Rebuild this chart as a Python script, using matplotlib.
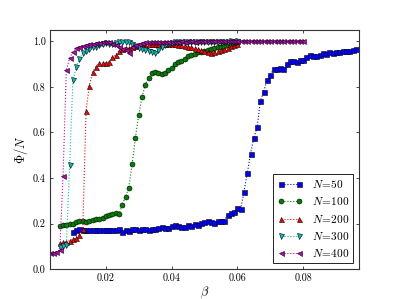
import numpy as np
import matplotlib
matplotlib.use("Agg")
import matplotlib.pyplot as plt

plt.rcParams['font.family'] = ['cmr10', 'DejaVu Serif']
plt.rcParams['mathtext.fontset'] = 'cm'
plt.rcParams['axes.formatter.use_mathtext'] = True

# ---- data ----
beta_start_50 = 0.010
phi_50 = [0.165, 0.170, 0.175, 0.172, 0.170, 0.172, 0.172, 0.170, 0.172, 0.172,
          0.173, 0.170, 0.170, 0.170, 0.175, 0.165, 0.170, 0.168, 0.178, 0.175,
          0.170, 0.175, 0.178, 0.172, 0.175, 0.178, 0.180, 0.185, 0.180, 0.180,
          0.190, 0.195, 0.190, 0.185, 0.185, 0.195, 0.190, 0.197, 0.195, 0.203,
          0.208, 0.210, 0.205, 0.203, 0.212, 0.210, 0.213, 0.237, 0.247, 0.250,
          0.270, 0.262, 0.340, 0.420, 0.507, 0.576, 0.622, 0.739, 0.779, 0.832,
          0.850, 0.880, 0.880, 0.884, 0.880, 0.902, 0.912, 0.912, 0.907, 0.916,
          0.920, 0.933, 0.940, 0.936, 0.936, 0.942, 0.947, 0.944, 0.953, 0.948,
          0.952, 0.955, 0.956, 0.957, 0.958, 0.961, 0.964]

beta_start_100 = 0.006
phi_100 = [0.190, 0.195, 0.193, 0.197, 0.200, 0.205, 0.210, 0.213, 0.205, 0.213,
           0.215, 0.218, 0.222, 0.225, 0.232, 0.236, 0.240, 0.245, 0.240, 0.283,
           0.317, 0.358, 0.460, 0.576, 0.677, 0.754, 0.810, 0.840, 0.859, 0.865,
           0.862, 0.857, 0.862, 0.872, 0.884, 0.900, 0.908, 0.915, 0.922, 0.934,
           0.940, 0.946, 0.951, 0.955, 0.957, 0.962, 0.967, 0.970, 0.974, 0.977,
           0.980, 0.983, 0.986, 0.990, 0.991]

beta_start_200 = 0.006
phi_200 = [0.115, 0.118, 0.120, 0.125, 0.130, 0.138, 0.150, 0.175, 0.695, 0.805,
           0.865, 0.889, 0.905, 0.905, 0.905, 0.910, 0.929, 0.940, 0.957, 0.968,
           0.972, 0.970, 0.976, 0.980, 0.982, 0.984, 0.985, 0.986, 0.987, 0.988,
           0.988, 0.989, 0.990, 0.988, 0.990, 0.988, 0.985, 0.982, 0.980, 0.977,
           0.974, 0.970, 0.966, 0.962, 0.958, 0.953, 0.950, 0.955, 0.957, 0.963,
           0.968, 0.972, 0.978, 0.984, 0.988]

beta_start_300 = 0.006
phi_300 = [0.095, 0.100, 0.105, 0.455, 0.828, 0.887, 0.924, 0.947, 0.957, 0.964,
           0.973, 0.977, 0.984, 0.987, 0.993, 0.990, 0.990, 0.993, 0.998, 0.998,
           0.998, 0.996, 0.990, 0.980, 0.972, 0.966, 0.960, 0.956, 0.953, 0.948,
           0.960, 0.973, 0.984, 0.990, 0.993, 0.995, 0.996, 0.995, 0.997, 0.996,
           0.997, 0.998, 0.997, 0.998, 0.998, 0.998, 0.999, 0.998, 0.999, 0.999,
           0.999, 0.999, 1.000, 0.999, 1.000]

beta_start_400 = 0.003
phi_400 = [0.072, 0.072, 0.075, 0.082, 0.410, 0.874, 0.926, 0.954, 0.969, 0.976,
           0.980, 0.984, 0.987, 0.988, 0.993, 0.994, 0.998, 0.996, 0.996, 0.990,
           0.984, 0.977, 0.968, 0.960, 0.950, 0.975, 0.985, 0.990, 0.992, 0.995,
           0.996, 0.997, 0.997, 0.998, 0.998, 0.999, 0.998, 0.999, 0.999, 0.999,
           1.000, 0.999, 1.000, 1.000, 0.999, 1.000, 1.000, 1.000, 1.000, 1.000,
           1.000, 1.000, 1.000, 1.000, 1.000, 1.000, 1.000, 1.000, 1.000, 1.000,
           1.000, 1.000, 1.000, 1.000, 1.000, 1.000, 1.000, 1.000, 1.000, 1.000,
           1.000, 1.000, 1.000, 1.000, 1.000, 1.000, 1.000, 1.000]

beta_step = 0.001
sizes = ['50', '100', '200', '300', '400']
starts = [beta_start_50, beta_start_100, beta_start_200, beta_start_300, beta_start_400]
series = [phi_50, phi_100, phi_200, phi_300, phi_400]
colors = ['#0000ff', '#008000', '#ff0000', '#00bfbf', '#bf00bf']
markers = ['s', 'o', '^', 'v', '<']

fig = plt.figure(figsize=(3.99, 2.99), dpi=100)
fig.subplots_adjust(left=0.125, right=0.9, bottom=0.1, top=0.9)
ax = fig.add_subplot(111)

for n, s0, phi, c, m in zip(sizes, starts, series, colors, markers):
    b = s0 + beta_step * np.arange(len(phi))
    ax.plot(b, phi, linestyle=':', color=c, marker=m, markersize=3.6,
            markeredgecolor='k', markeredgewidth=0.4, linewidth=0.8,
            label=r'$N\!=\!%s$' % n)

ax.set_xlim(0.003, 0.097)
ax.set_ylim(0.0, 1.05)
ax.set_xticks([0.02, 0.04, 0.06, 0.08])
ax.set_xticklabels(['0.02', '0.04', '0.06', '0.08'])
ax.set_yticks([0.0, 0.2, 0.4, 0.6, 0.8, 1.0])
ax.set_yticklabels(['0.0', '0.2', '0.4', '0.6', '0.8', '1.0'])
ax.tick_params(direction='in', top=True, right=True, length=2.5, width=0.5,
               labelsize=7.3, pad=3)
for sp in ax.spines.values():
    sp.set_linewidth(0.8)
    sp.set_color('#333333')

ax.set_xlabel(r'$\beta$', fontsize=9, labelpad=1)
ax.set_ylabel(r'$\Phi/N$', fontsize=9, labelpad=2)

leg = ax.legend(loc='lower right', numpoints=2, fontsize=8.2, fancybox=False,
                edgecolor='k', framealpha=1, borderaxespad=0.5,
                handlelength=2.2, labelspacing=0.45)
leg.get_frame().set_linewidth(0.6)

fig.savefig('out.png', dpi=100)
